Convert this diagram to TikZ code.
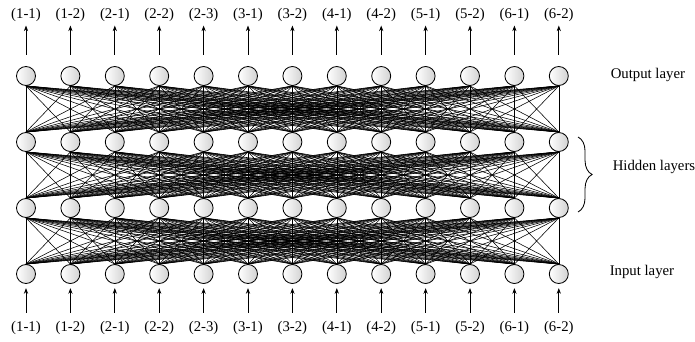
\documentclass[tikz,border=0pt]{standalone}
\usepackage{fontspec}
\setmainfont{Liberation Serif}
\usetikzlibrary{arrows.meta,decorations.pathreplacing}

\begin{document}
\begin{tikzpicture}[
  x=0.025cm,y=-0.025cm,>={Stealth[length=4pt,width=3pt]},line width=0.5pt,
  unit/.style={draw,circle,minimum size=0.475cm,inner sep=0pt,line width=0.6pt,left color=white,right color=gray!35},
  lab/.style={font=\fontsize{10.5}{12}\selectfont,inner sep=1pt},
  link/.style={line width=0.4pt}
]
\useasboundingbox (0,0) rectangle (695,341);
\foreach \t [count=\c] in {1-1,1-2,2-1,2-2,2-3,3-1,3-2,4-1,4-2,5-1,5-2,6-1,6-2}{
  \foreach \r/\yy in {0/274,1/208,2/142,3/76}
    \node[unit] (l\r-\c) at ({26+44.4*(\c-1)},\yy) {};
  \node[lab] (top-\c) at ({26+44.4*(\c-1)},15) {(\t)};
  \node[lab] (bot-\c) at ({26+44.4*(\c-1)},328) {(\t)};
}
\foreach \r [evaluate=\r as \s using int(\r+1)] in {0,1,2}
  \foreach \a in {1,...,13}
    \foreach \b in {1,...,13}
      \draw[link] (l\s-\a.south) -- (l\r-\b.north);
\foreach \c in {1,...,13}{
  \draw[->,shorten <=8pt,shorten >=1.5pt] (l3-\c) -- (top-\c);
  \draw[->,shorten <=5pt,shorten >=3pt] (bot-\c) -- (l0-\c);
}
\coordinate (bt) at (578,137);
\coordinate (bb) at (578,212);
\draw[decorate,decoration={brace,amplitude=10pt},line width=0.6pt] (bt) -- (bb);
\node[lab,anchor=west] (outlab) at (609,75) {Output layer};
\node[lab,anchor=west] (hidlab) at (611,167) {Hidden layers};
\node[lab,anchor=west] (inlab) at (608,272) {Input layer};
\end{tikzpicture}
\end{document}
